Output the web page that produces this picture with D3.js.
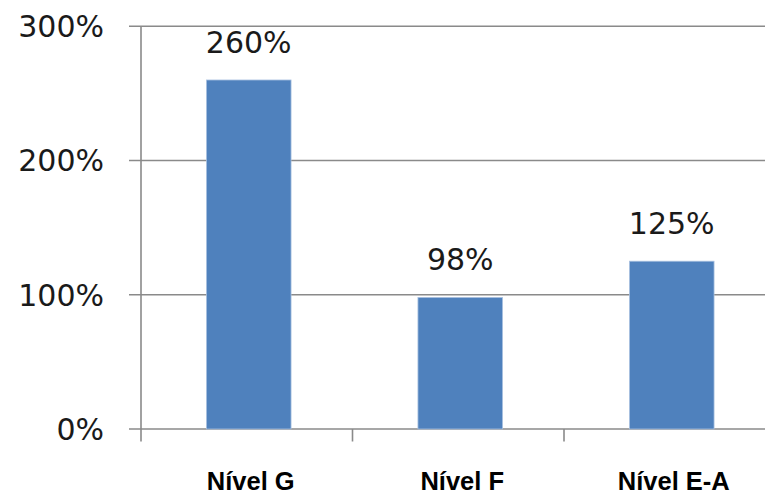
<!DOCTYPE html>
<html>
<head>
<meta charset="utf-8">
<script src="https://cdn.jsdelivr.net/npm/d3@7"></script>
<style>
  html, body { margin: 0; padding: 0; background: #fff; }
  svg { display: block; }
</style>
</head>
<body>
<svg id="chart" width="765" height="496"></svg>
<script>
// Categories and values (percent)
const categories = ["Nível G", "Nível F", "Nível E-A"];
const values = [260, 98, 125];
const yTicks = [0, 100, 200, 300];

const svg = d3.select("#chart");
const W = 765, H = 496;

// Plot area (the right edge runs past the visible width)
const plotLeft = 141, plotRight = 775.5, plotTop = 26.3, plotBottom = 429;

const x = d3.scaleBand()
  .domain(categories)
  .range([plotLeft, plotRight])
  .paddingInner(0.6)
  .paddingOuter(0.3);

const xCat = d3.scaleBand()
  .domain(categories)
  .range([plotLeft, plotRight])
  .padding(0);

const y = d3.scaleLinear()
  .domain([0, 300])
  .range([plotBottom, plotTop]);

const gridColor = "#8a8a8a";

// Horizontal gridlines with tick marks extending left of the axis
svg.append("g")
  .selectAll("line")
  .data(yTicks)
  .join("line")
  .attr("x1", plotLeft - 12)
  .attr("x2", W)
  .attr("y1", d => y(d))
  .attr("y2", d => y(d))
  .attr("stroke", gridColor)
  .attr("stroke-width", 1.6);

// Vertical value axis
svg.append("line")
  .attr("x1", plotLeft).attr("x2", plotLeft)
  .attr("y1", y(300)).attr("y2", plotBottom + 12.5)
  .attr("stroke", gridColor)
  .attr("stroke-width", 1.6);

// Category boundary tick marks below the baseline
const boundaries = categories.map(c => xCat(c) + xCat.bandwidth());
svg.append("g")
  .selectAll("line")
  .data(boundaries)
  .join("line")
  .attr("x1", d => d).attr("x2", d => d)
  .attr("y1", plotBottom).attr("y2", plotBottom + 12.5)
  .attr("stroke", gridColor)
  .attr("stroke-width", 1.6);

// Y tick labels
svg.append("g")
  .selectAll("text")
  .data(yTicks)
  .join("text")
  .attr("x", 104)
  .attr("y", d => y(d))
  .attr("dy", "0.36em")
  .attr("text-anchor", "end")
  .attr("font-family", "'DejaVu Sans', sans-serif")
  .attr("font-size", 30)
  .attr("fill", "#1a1a1a")
  .text(d => d + "%");

// Bars
svg.append("g")
  .selectAll("rect")
  .data(values)
  .join("rect")
  .attr("x", (d, i) => x(categories[i]) + 2)
  .attr("width", x.bandwidth())
  .attr("y", d => y(d))
  .attr("height", d => plotBottom - y(d))
  .attr("fill", "#4f81bd")
  .attr("stroke", "#a9c1e0")
  .attr("stroke-width", 0.8);

// Value labels above bars
svg.append("g")
  .selectAll("text")
  .data(values)
  .join("text")
  .attr("x", (d, i) => x(categories[i]) + 2 + x.bandwidth() / 2)
  .attr("y", d => y(d) - 27)
  .attr("text-anchor", "middle")
  .attr("font-family", "'DejaVu Sans', sans-serif")
  .attr("font-size", 30)
  .attr("fill", "#1a1a1a")
  .text(d => d + "%");

// Category labels
svg.append("g")
  .selectAll("text")
  .data(categories)
  .join("text")
  .attr("x", d => x(d) + 4 + x.bandwidth() / 2)
  .attr("y", 490)
  .attr("text-anchor", "middle")
  .attr("font-family", "'Liberation Sans', Arial, sans-serif")
  .attr("font-weight", "bold")
  .attr("font-size", 25.5)
  .attr("fill", "#000")
  .text(d => d);
</script>
</body>
</html>
